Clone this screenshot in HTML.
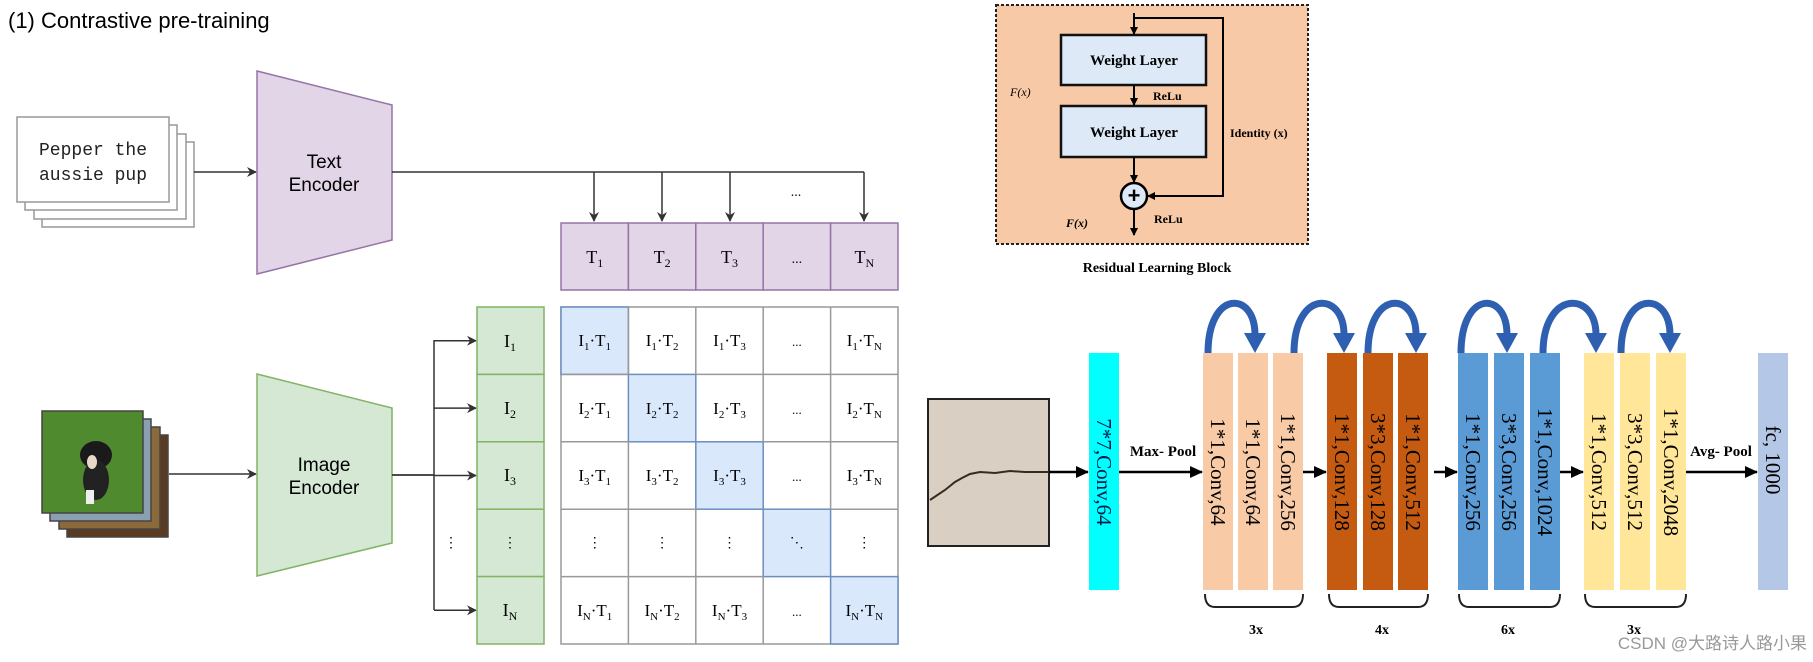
<!DOCTYPE html>
<html><head><meta charset="utf-8"><style>
html,body{margin:0;padding:0;background:#fff;}
svg{display:block;}
.sf{font-family:"Liberation Serif",serif;}
.ss{font-family:"Liberation Sans",sans-serif;}
</style></head><body>
<svg width="1813" height="662" viewBox="0 0 1813 662" xmlns="http://www.w3.org/2000/svg">
<defs>
<marker id="ah" markerWidth="10" markerHeight="10" refX="9" refY="5" orient="auto" markerUnits="userSpaceOnUse"><path d="M0,0 L10,5 L0,10 L3,5 Z" fill="#333"/></marker>
<marker id="bh" markerWidth="14" markerHeight="14" refX="12" refY="7" orient="auto" markerUnits="userSpaceOnUse"><path d="M0,1 L13,7 L0,13 Z" fill="#000"/></marker>
<marker id="sh" markerWidth="8" markerHeight="8" refX="7" refY="4" orient="auto" markerUnits="userSpaceOnUse"><path d="M0,0 L8,4 L0,8 Z" fill="#000"/></marker>
</defs>
<text x="8" y="28" class="ss" font-size="22" fill="#000">(1) Contrastive pre-training</text>

<!-- text stack -->
<g fill="#fff" stroke="#999" stroke-width="1.5">
<rect x="42" y="142" width="152" height="85"/>
<rect x="34" y="134" width="152" height="85"/>
<rect x="25" y="125" width="152" height="85"/>
<rect x="17" y="117" width="152" height="85"/>
</g>
<text x="93" y="155" text-anchor="middle" font-family="Liberation Mono,monospace" font-size="18" fill="#222">Pepper the</text>
<text x="93" y="180" text-anchor="middle" font-family="Liberation Mono,monospace" font-size="18" fill="#222">aussie pup</text>
<line x1="194" y1="172" x2="256" y2="172" stroke="#333" stroke-width="1.5" marker-end="url(#ah)"/>

<!-- text encoder -->
<polygon points="257,71 392,105 392,240 257,274" fill="#e1d5e7" stroke="#9673a6" stroke-width="1.5"/>
<text x="324" y="168" text-anchor="middle" class="ss" font-size="19">Text</text>
<text x="324" y="191" text-anchor="middle" class="ss" font-size="19">Encoder</text>
<polyline points="392,172 864,172" fill="none" stroke="#333" stroke-width="1.5"/>
<g stroke="#333" stroke-width="1.5">
<line x1="594" y1="172" x2="594" y2="221" marker-end="url(#ah)"/>
<line x1="662" y1="172" x2="662" y2="221" marker-end="url(#ah)"/>
<line x1="730" y1="172" x2="730" y2="221" marker-end="url(#ah)"/>
<line x1="864" y1="172" x2="864" y2="221" marker-end="url(#ah)"/>
</g>
<text x="796" y="196" text-anchor="middle" class="sf" font-size="14">...</text>

<!-- T boxes -->
<g fill="#e1d5e7" stroke="#9673a6" stroke-width="1.5">
<rect x="561" y="223" width="67.4" height="67"/>
<rect x="628.4" y="223" width="67.4" height="67"/>
<rect x="695.8" y="223" width="67.4" height="67"/>
<rect x="763.2" y="223" width="67.4" height="67"/>
<rect x="830.6" y="223" width="67.4" height="67"/>
</g>
<g class="sf" font-size="18" text-anchor="middle">
<text x="594.7" y="263">T<tspan font-size="12" dy="4">1</tspan></text>
<text x="662.1" y="263">T<tspan font-size="12" dy="4">2</tspan></text>
<text x="729.5" y="263">T<tspan font-size="12" dy="4">3</tspan></text>
<text x="796.9" y="263" font-size="14">...</text>
<text x="864.3" y="263">T<tspan font-size="12" dy="4">N</tspan></text>
</g>

<!-- image stack -->
<g stroke="#444" stroke-width="1.5">
<rect x="67" y="435" width="101" height="102" fill="#5a3a20"/>
<rect x="59" y="427" width="101" height="102" fill="#8a6a3a"/>
<rect x="50" y="419" width="101" height="102" fill="#8aa0b0"/>
<rect x="42" y="411" width="101" height="102" fill="#4f8a2f"/>
</g>
<ellipse cx="96" cy="455" rx="16" ry="14" fill="#1a1a1a"/>
<ellipse cx="96" cy="480" rx="13" ry="20" fill="#222"/>
<ellipse cx="92" cy="462" rx="5" ry="7" fill="#e8d8c8"/>
<rect x="86" y="490" width="8" height="14" fill="#eee"/>
<line x1="169" y1="474" x2="256" y2="474" stroke="#333" stroke-width="1.5" marker-end="url(#ah)"/>

<!-- image encoder -->
<polygon points="257,374 392,408 392,543 257,576" fill="#d5e8d4" stroke="#82b366" stroke-width="1.5"/>
<text x="324" y="471" text-anchor="middle" class="ss" font-size="19">Image</text>
<text x="324" y="494" text-anchor="middle" class="ss" font-size="19">Encoder</text>
<line x1="392" y1="475" x2="434" y2="475" stroke="#333" stroke-width="1.8"/>
<line x1="434" y1="340" x2="434" y2="610" stroke="#333" stroke-width="1.5"/>
<g stroke="#333" stroke-width="1.5">
<line x1="434" y1="340.7" x2="476" y2="340.7" marker-end="url(#ah)"/>
<line x1="434" y1="408.1" x2="476" y2="408.1" marker-end="url(#ah)"/>
<line x1="434" y1="475.5" x2="476" y2="475.5" marker-end="url(#ah)"/>
<line x1="434" y1="610.3" x2="476" y2="610.3" marker-end="url(#ah)"/>
</g>
<text x="451" y="547" text-anchor="middle" class="sf" font-size="14">⋮</text>

<!-- I column -->
<g fill="#d5e8d4" stroke="#82b366" stroke-width="1.5">
<rect x="477" y="307" width="67" height="67.4"/>
<rect x="477" y="374.4" width="67" height="67.4"/>
<rect x="477" y="441.8" width="67" height="67.4"/>
<rect x="477" y="509.2" width="67" height="67.4"/>
<rect x="477" y="576.6" width="67" height="67.4"/>
</g>
<g class="sf" font-size="18" text-anchor="middle">
<text x="510" y="347">I<tspan font-size="12" dy="4">1</tspan></text>
<text x="510" y="414">I<tspan font-size="12" dy="4">2</tspan></text>
<text x="510" y="481">I<tspan font-size="12" dy="4">3</tspan></text>
<text x="510" y="547" font-size="14">⋮</text>
<text x="510" y="616">I<tspan font-size="12" dy="4">N</tspan></text>
</g>

<!-- grid -->
<g fill="#fff" stroke="#999" stroke-width="1.5">
<rect x="561" y="307" width="337" height="337"/>
</g>
<g fill="#dae8fc" stroke="#6c8ebf" stroke-width="1.5">
<rect x="561" y="307" width="67.4" height="67.4"/>
<rect x="628.4" y="374.4" width="67.4" height="67.4"/>
<rect x="695.8" y="441.8" width="67.4" height="67.4"/>
<rect x="763.2" y="509.2" width="67.4" height="67.4"/>
<rect x="830.6" y="576.6" width="67.4" height="67.4"/>
</g>
<g stroke="#999" stroke-width="1.5">
<line x1="628.4" y1="307" x2="628.4" y2="374.4"/><line x1="628.4" y1="441.8" x2="628.4" y2="644"/>
<line x1="695.8" y1="307" x2="695.8" y2="374.4"/><line x1="695.8" y1="509.2" x2="695.8" y2="644"/>
<line x1="763.2" y1="307" x2="763.2" y2="441.8"/><line x1="763.2" y1="576.6" x2="763.2" y2="644"/>
<line x1="830.6" y1="307" x2="830.6" y2="509.2"/>
<line x1="695.8" y1="374.4" x2="898" y2="374.4"/>
<line x1="561" y1="441.8" x2="628.4" y2="441.8"/><line x1="763.2" y1="441.8" x2="898" y2="441.8"/>
<line x1="561" y1="509.2" x2="695.8" y2="509.2"/><line x1="830.6" y1="509.2" x2="898" y2="509.2"/>
<line x1="561" y1="576.6" x2="763.2" y2="576.6"/>
<line x1="561" y1="374.4" x2="628.4" y2="374.4"/>
</g>
<g class="sf" font-size="17" text-anchor="middle">
<text x="594.7" y="346">I<tspan font-size="11" dy="4">1</tspan><tspan dy="-4">·T</tspan><tspan font-size="11" dy="4">1</tspan></text>
<text x="662.1" y="346">I<tspan font-size="11" dy="4">1</tspan><tspan dy="-4">·T</tspan><tspan font-size="11" dy="4">2</tspan></text>
<text x="729.5" y="346">I<tspan font-size="11" dy="4">1</tspan><tspan dy="-4">·T</tspan><tspan font-size="11" dy="4">3</tspan></text>
<text x="796.9" y="346" font-size="13">...</text>
<text x="864.3" y="346">I<tspan font-size="11" dy="4">1</tspan><tspan dy="-4">·T</tspan><tspan font-size="11" dy="4">N</tspan></text>

<text x="594.7" y="414">I<tspan font-size="11" dy="4">2</tspan><tspan dy="-4">·T</tspan><tspan font-size="11" dy="4">1</tspan></text>
<text x="662.1" y="414">I<tspan font-size="11" dy="4">2</tspan><tspan dy="-4">·T</tspan><tspan font-size="11" dy="4">2</tspan></text>
<text x="729.5" y="414">I<tspan font-size="11" dy="4">2</tspan><tspan dy="-4">·T</tspan><tspan font-size="11" dy="4">3</tspan></text>
<text x="796.9" y="414" font-size="13">...</text>
<text x="864.3" y="414">I<tspan font-size="11" dy="4">2</tspan><tspan dy="-4">·T</tspan><tspan font-size="11" dy="4">N</tspan></text>

<text x="594.7" y="481">I<tspan font-size="11" dy="4">3</tspan><tspan dy="-4">·T</tspan><tspan font-size="11" dy="4">1</tspan></text>
<text x="662.1" y="481">I<tspan font-size="11" dy="4">3</tspan><tspan dy="-4">·T</tspan><tspan font-size="11" dy="4">2</tspan></text>
<text x="729.5" y="481">I<tspan font-size="11" dy="4">3</tspan><tspan dy="-4">·T</tspan><tspan font-size="11" dy="4">3</tspan></text>
<text x="796.9" y="481" font-size="13">...</text>
<text x="864.3" y="481">I<tspan font-size="11" dy="4">3</tspan><tspan dy="-4">·T</tspan><tspan font-size="11" dy="4">N</tspan></text>

<text x="594.7" y="547" font-size="14">⋮</text>
<text x="662.1" y="547" font-size="14">⋮</text>
<text x="729.5" y="547" font-size="14">⋮</text>
<text x="796.9" y="547" font-size="14">⋱</text>
<text x="864.3" y="547" font-size="14">⋮</text>

<text x="594.7" y="616">I<tspan font-size="11" dy="4">N</tspan><tspan dy="-4">·T</tspan><tspan font-size="11" dy="4">1</tspan></text>
<text x="662.1" y="616">I<tspan font-size="11" dy="4">N</tspan><tspan dy="-4">·T</tspan><tspan font-size="11" dy="4">2</tspan></text>
<text x="729.5" y="616">I<tspan font-size="11" dy="4">N</tspan><tspan dy="-4">·T</tspan><tspan font-size="11" dy="4">3</tspan></text>
<text x="796.9" y="616" font-size="13">...</text>
<text x="864.3" y="616">I<tspan font-size="11" dy="4">N</tspan><tspan dy="-4">·T</tspan><tspan font-size="11" dy="4">N</tspan></text>
</g>

<!-- residual block -->
<rect x="996" y="5" width="312" height="239" fill="#f8c9a6" stroke="#222" stroke-width="2" stroke-dasharray="3,2"/>
<rect x="1061" y="35" width="145" height="50" fill="#dde9f6" stroke="#111" stroke-width="2.5"/>
<rect x="1061" y="106" width="145" height="51" fill="#dde9f6" stroke="#111" stroke-width="2.5"/>
<g class="sf" font-weight="bold" font-size="15" text-anchor="middle">
<text x="1134" y="65">Weight Layer</text>
<text x="1134" y="137">Weight Layer</text>
</g>
<g stroke="#000" stroke-width="2" fill="none">
<line x1="1134" y1="13" x2="1134" y2="34" marker-end="url(#sh)"/>
<line x1="1134" y1="85" x2="1134" y2="105" marker-end="url(#sh)"/>
<line x1="1134" y1="157" x2="1134" y2="182" marker-end="url(#sh)"/>
<polyline points="1134,18 1223,18 1223,196 1148,196" marker-end="url(#sh)"/>
<line x1="1134" y1="210" x2="1134" y2="235" marker-end="url(#sh)"/>
</g>
<circle cx="1134" cy="196" r="13" fill="#dde9f6" stroke="#000" stroke-width="2.5"/>
<text x="1134" y="203" text-anchor="middle" class="ss" font-weight="bold" font-size="22">+</text>
<g class="sf" font-size="12" font-weight="bold">
<text x="1010" y="96" font-style="italic" font-weight="normal">F(x)</text>
<text x="1153" y="100">ReLu</text>
<text x="1230" y="137">Identity (x)</text>
<text x="1066" y="227" font-style="italic">F(x)</text>
<text x="1154" y="223">ReLu</text>
</g>
<text x="1157" y="272" text-anchor="middle" class="sf" font-weight="bold" font-size="14">Residual Learning Block</text>

<!-- network -->
<rect x="928" y="399" width="121" height="147" fill="#d9d0c3" stroke="#222" stroke-width="2"/>
<path d="M930,500 L945,490 L955,482 L962,478 L970,474 L980,472 L995,473 L1010,471 L1025,472 L1049,472" fill="none" stroke="#3a2a1a" stroke-width="2"/>
<g stroke="#000" stroke-width="2.5">
<line x1="1049" y1="472" x2="1088" y2="472" marker-end="url(#bh)"/>
<line x1="1119" y1="472" x2="1202" y2="472" marker-end="url(#bh)"/>
<line x1="1303" y1="472" x2="1326" y2="472" marker-end="url(#bh)"/>
<line x1="1434" y1="472" x2="1457" y2="472" marker-end="url(#bh)"/>
<line x1="1560" y1="472" x2="1583" y2="472" marker-end="url(#bh)"/>
<line x1="1686" y1="472" x2="1757" y2="472" marker-end="url(#bh)"/>
</g>
<g class="sf" font-weight="bold" font-size="15">
<text x="1163" y="456" text-anchor="middle">Max- Pool</text>
<text x="1721" y="456" text-anchor="middle">Avg- Pool</text>
</g>
<g>
<rect x="1089" y="353" width="30" height="237" fill="#00ffff"/>
<rect x="1203" y="353" width="30" height="237" fill="#f8cba6"/>
<rect x="1238" y="353" width="30" height="237" fill="#f8cba6"/>
<rect x="1273" y="353" width="30" height="237" fill="#f8cba6"/>
<rect x="1327" y="353" width="30" height="237" fill="#c55a11"/>
<rect x="1363" y="353" width="30" height="237" fill="#c55a11"/>
<rect x="1398" y="353" width="30" height="237" fill="#c55a11"/>
<rect x="1458" y="353" width="30" height="237" fill="#5b9bd5"/>
<rect x="1494" y="353" width="30" height="237" fill="#5b9bd5"/>
<rect x="1530" y="353" width="30" height="237" fill="#5b9bd5"/>
<rect x="1584" y="353" width="30" height="237" fill="#ffe699"/>
<rect x="1620" y="353" width="30" height="237" fill="#ffe699"/>
<rect x="1656" y="353" width="30" height="237" fill="#ffe699"/>
<rect x="1758" y="353" width="30" height="237" fill="#b4c7e7"/>
</g>
<g class="sf" font-size="21" text-anchor="middle">
<text transform="translate(1097,472) rotate(90)" fill="#001a4a">7*7,Conv,64</text>
<text transform="translate(1211,472) rotate(90)">1*1,Conv,64</text>
<text transform="translate(1246,472) rotate(90)">1*1,Conv,64</text>
<text transform="translate(1281,472) rotate(90)">1*1,Conv,256</text>
<text transform="translate(1335,472) rotate(90)">1*1,Conv,128</text>
<text transform="translate(1371,472) rotate(90)">3*3,Conv,128</text>
<text transform="translate(1406,472) rotate(90)">1*1,Conv,512</text>
<text transform="translate(1466,472) rotate(90)">1*1,Conv,256</text>
<text transform="translate(1502,472) rotate(90)">3*3,Conv,256</text>
<text transform="translate(1538,472) rotate(90)">1*1,Conv,1024</text>
<text transform="translate(1592,472) rotate(90)">1*1,Conv,512</text>
<text transform="translate(1628,472) rotate(90)">3*3,Conv,512</text>
<text transform="translate(1664,472) rotate(90)">1*1,Conv,2048</text>
<text transform="translate(1766,460) rotate(90)">fc, 1000</text>
</g>
<!-- curved arrows -->
<g fill="none" stroke="#2f5fb0" stroke-width="7">
<path d="M1208,353 C1208,290 1255,290 1255,335"/>
<path d="M1294,353 C1294,290 1344,290 1344,335"/>
<path d="M1368,353 C1368,290 1416,290 1416,335"/>
<path d="M1461,353 C1461,290 1507,290 1507,335"/>
<path d="M1543,353 C1543,290 1596,290 1596,335"/>
<path d="M1621,353 C1621,290 1670,290 1670,335"/>
</g>
<g fill="#2f5fb0">
<polygon points="1244,333 1266,333 1255,353"/>
<polygon points="1333,333 1355,333 1344,353"/>
<polygon points="1405,333 1427,333 1416,353"/>
<polygon points="1496,333 1518,333 1507,353"/>
<polygon points="1585,333 1607,333 1596,353"/>
<polygon points="1659,333 1681,333 1670,353"/>
</g>
<!-- braces -->
<g fill="none" stroke="#222" stroke-width="2">
<path d="M1205,594 Q1205,607 1215,607 L1293,607 Q1303,607 1303,594"/>
<path d="M1329,594 Q1329,607 1339,607 L1418,607 Q1428,607 1428,594"/>
<path d="M1459,594 Q1459,607 1469,607 L1550,607 Q1560,607 1560,594"/>
<path d="M1585,594 Q1585,607 1595,607 L1676,607 Q1686,607 1686,594"/>
</g>
<g class="sf" font-weight="bold" font-size="14" text-anchor="middle">
<text x="1256" y="634">3x</text>
<text x="1382" y="634">4x</text>
<text x="1508" y="634">6x</text>
<text x="1634" y="634">3x</text>
</g>
<text x="1807" y="649" text-anchor="end" font-family="Liberation Sans,'Noto Sans CJK SC',sans-serif" font-size="17" fill="#999">CSDN @大路诗人路小果</text>
</svg>
</body></html>
